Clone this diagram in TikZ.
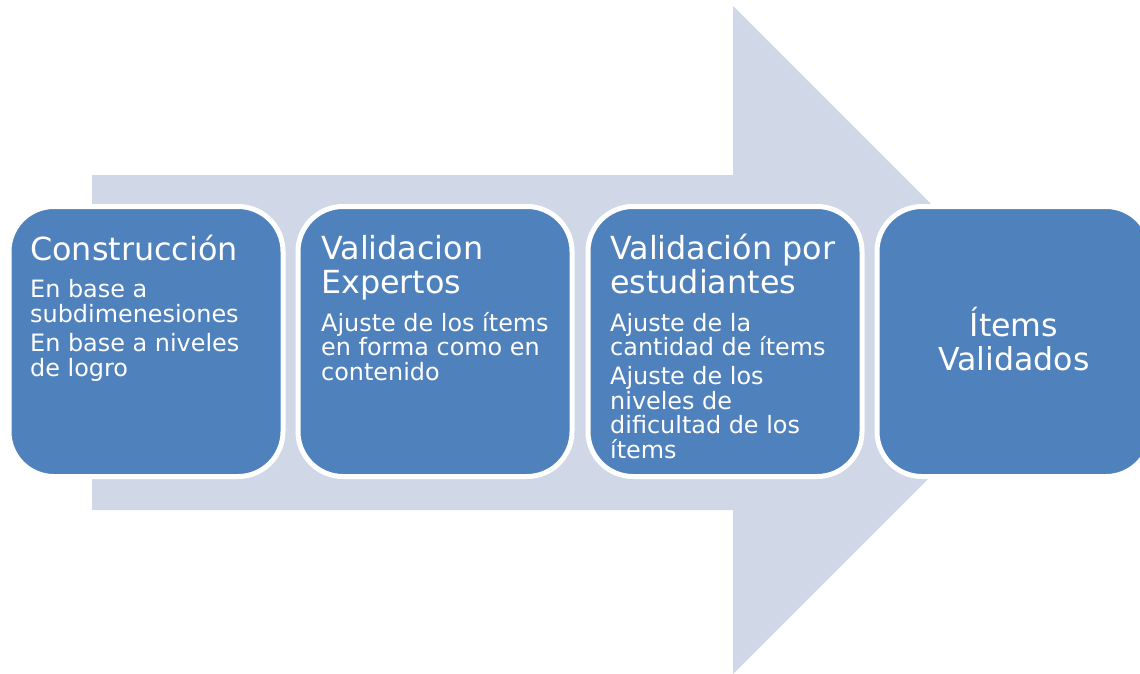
\documentclass[tikz,border=0pt]{standalone}
\usepackage{fontspec}
\setmainfont{DejaVu Sans}
\definecolor{arrowfill}{HTML}{D0D8E8}
\definecolor{boxblue}{HTML}{4F81BD}
\begin{document}
\begin{tikzpicture}[x=1pt,y=-1pt,
  stage/.style={draw=white, line width=5pt, fill=boxblue, rounded corners=45pt,
    minimum width=274pt, minimum height=270pt, inner sep=0pt},
  ttl/.style={text=white, font=\fontsize{31.8}{33.5}\selectfont, align=left,
    anchor=base west, inner sep=0pt},
  txt/.style={text=white, font=\fontsize{23.9}{24.7}\selectfont, align=left,
    anchor=base west, inner sep=0pt},
  fin/.style={text=white, font=\fontsize{31.6}{34}\selectfont, align=center,
    anchor=base, inner sep=0pt}]
\useasboundingbox (0,0) rectangle (1140,674);
\clip (0,0) rectangle (1140,674);
\fill[arrowfill] (92,175) -- (733,175) -- (733,6) -- (1067,340) -- (733,674)
  -- (733,510) -- (92,510) -- cycle;
\node[stage] (b1) at (146,341.5) {};
\node[stage] (b2) at (435,341.5) {};
\node[stage] (b3) at (725,341.5) {};
\node[stage] (b4) at (1014,341.5) {};
% base anchor = baseline of the last line
\node[ttl] (t1) at (30,260) {Construcción};
\node[txt] (d1) at (30,376) {En base a\\subdimenesiones\\[4pt]En base a niveles\\de logro};
\node[ttl] (t2) at (321,293) {Validacion\\Expertos};
\node[txt] (d2) at (321,380.4) {Ajuste de los ítems\\en forma como en\\contenido};
\node[ttl] (t3) at (610,293) {Validación por\\estudiantes};
\node[txt] (d3) at (610,458.5) {Ajuste de la\\cantidad de ítems\\[4pt]Ajuste de los\\niveles de\\dificultad de los\\ítems};
\node[fin] (t4) at (1014,370) {Ítems\\Validados};
\end{tikzpicture}
\end{document}
